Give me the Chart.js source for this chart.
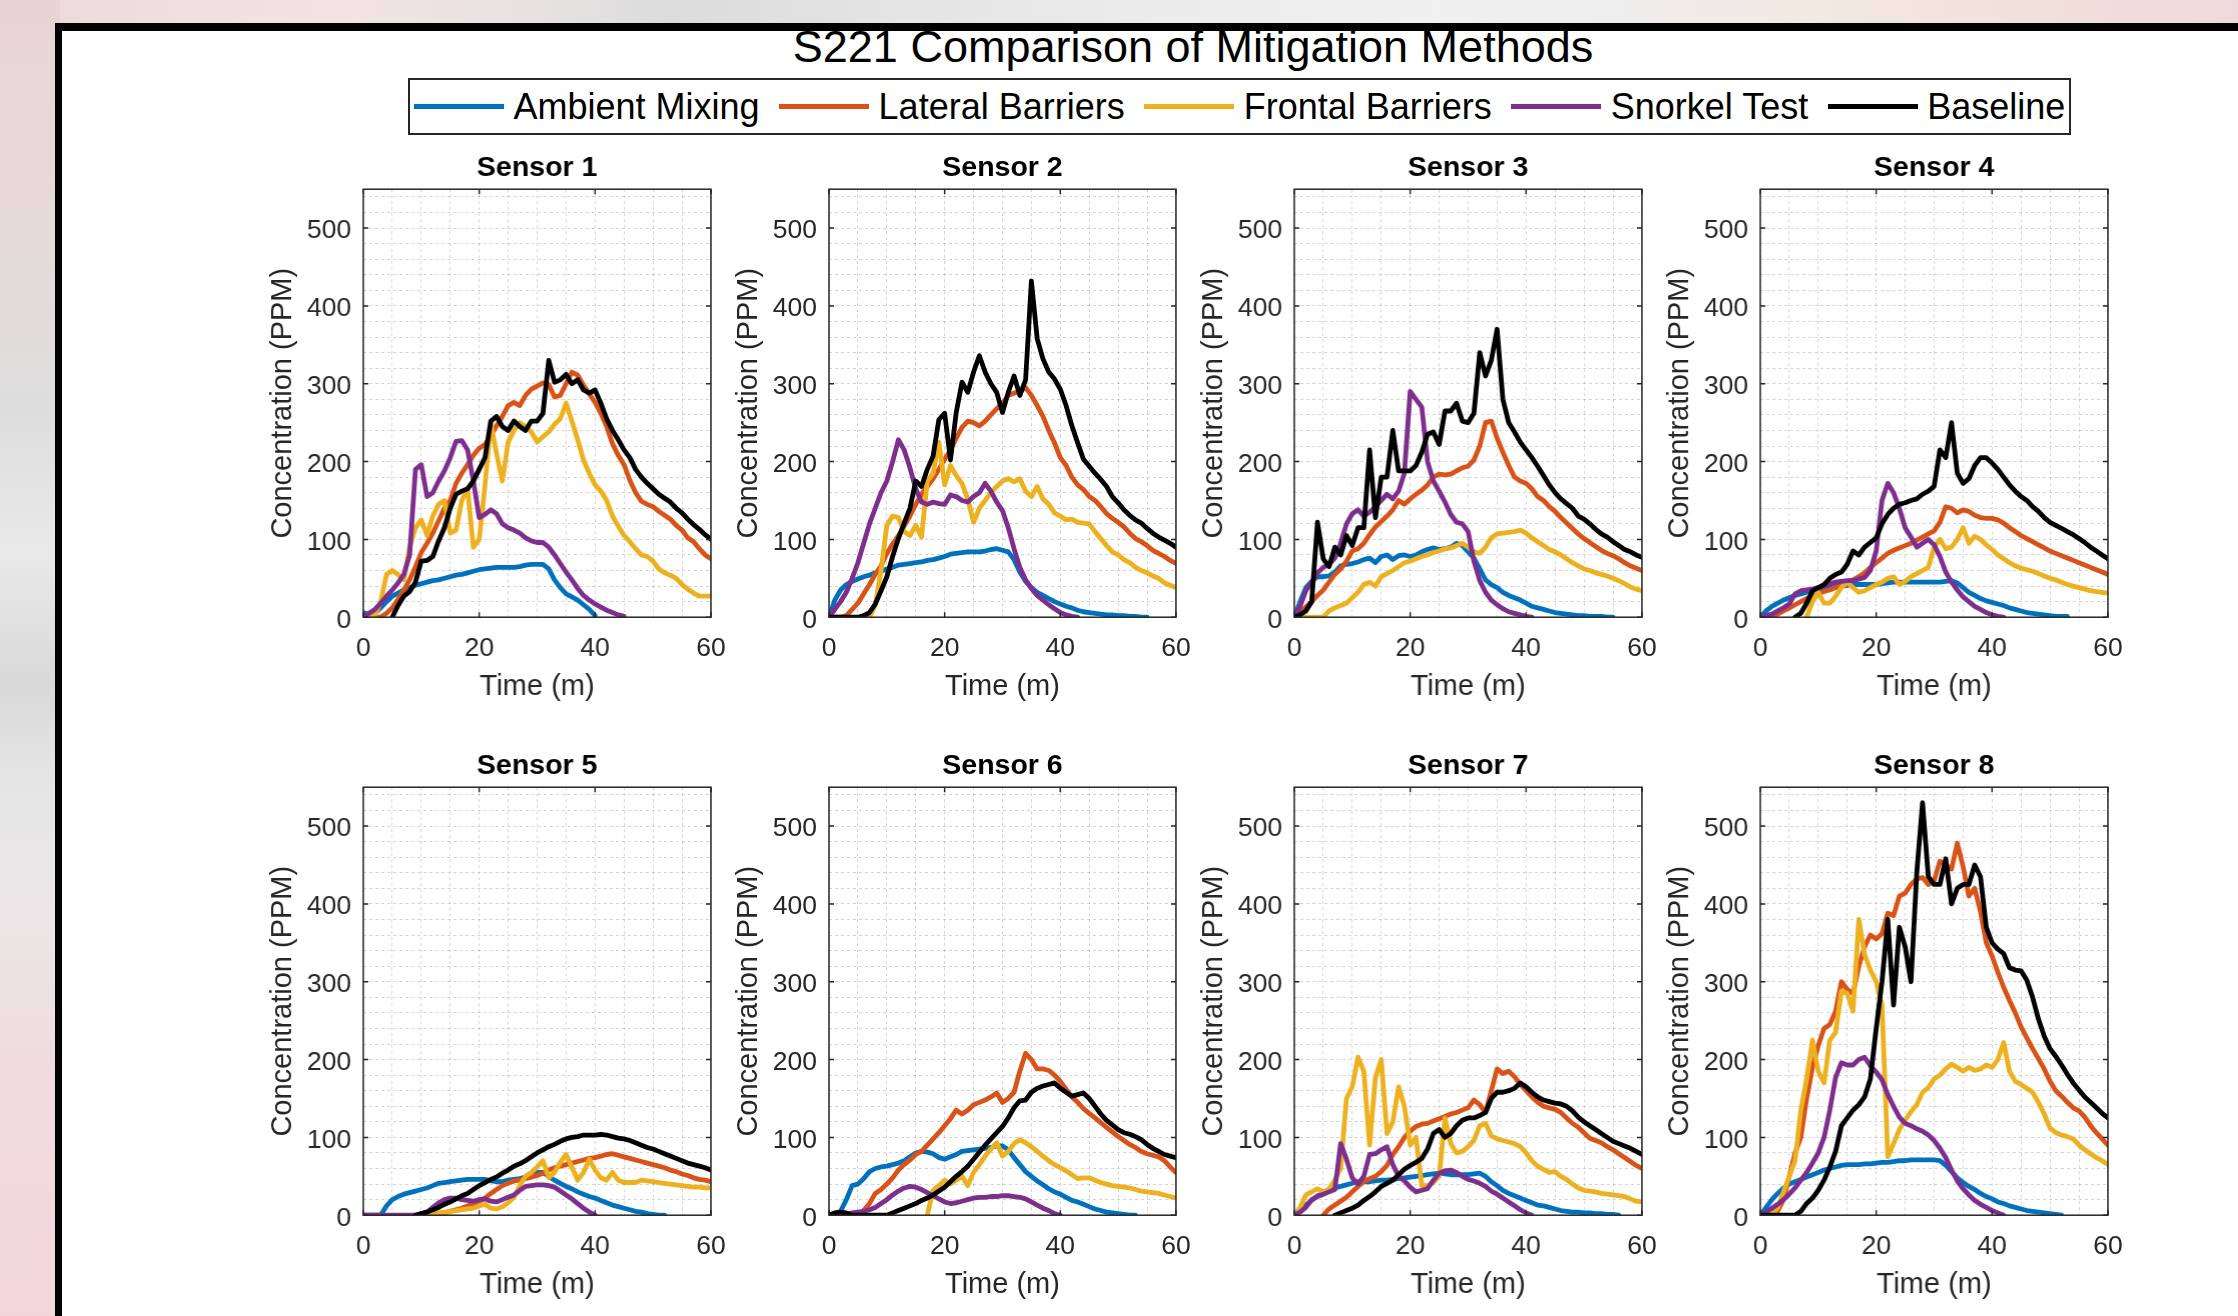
<!DOCTYPE html>
<html>
<head>
<meta charset="utf-8">
<script src="https://cdn.jsdelivr.net/npm/chart.js@4/dist/chart.umd.min.js"></script>
<style>
  html, body { margin: 0; padding: 0; }
  body {
    width: 2238px; height: 1316px; overflow: hidden; position: relative;
    font-family: "Liberation Sans", Arial, Helvetica, sans-serif;
    background: linear-gradient(to right, #ead9d9 0%, #f1dfdf 8%, #f3e3e3 16%, #e6e2e2 24%, #dcdcdc 30%, #e4e4e4 40%, #ececec 52%, #f1f0f0 64%, #eeeeee 72%, #f3e9e3 80%, #f2e0dc 90%, #eedada 100%);
  }
  #leftStrip {
    position: absolute; left: 0; top: 0; width: 60px; height: 1316px;
    background: linear-gradient(to bottom, #e8d4d5 0%, #ead8d8 12%, #e2dcdc 22%, #dedede 32%, #e9e9e9 42%, #d9d9d9 52%, #e6e6e6 60%, #ebe6e7 70%, #f0dadf 82%, #f2d6dc 100%);
  }
  #paper { position: absolute; left: 55px; top: 23px; right: 0; bottom: 0; background: #fff; }
  #borderTop { position: absolute; left: 55px; top: 23px; right: 0; height: 8px; background: #000; z-index: 5; }
  #borderLeft { position: absolute; left: 55px; top: 23px; width: 7px; bottom: 0; background: #000; z-index: 5; }
  #figTitle {
    position: absolute; left: 1193px; top: 24px; transform: translateX(-50%);
    font-size: 45px; line-height: 45px; white-space: nowrap; color: #000; z-index: 2;
  }
  #legend {
    position: absolute; left: 408px; top: 78px; width: 1663px; height: 57px;
    box-sizing: border-box; border: 2px solid #262626; background: #fff;
    display: flex; align-items: center; padding-left: 4px; z-index: 2;
  }
  .lgItem { display: flex; align-items: center; margin-right: 19.5px; }
  .lgLine { width: 90px; height: 5px; margin-right: 9.5px; }
  .lgText { font-size: 36px; line-height: 1; color: #000; white-space: nowrap; }
  .plotWrap { position: absolute; z-index: 1; }
</style>
</head>
<body>
<div id="leftStrip"></div>
<div id="paper"></div>
<div id="figTitle">S221 Comparison of Mitigation Methods</div>
<div id="borderTop"></div>
<div id="borderLeft"></div>
<div id="legend"></div>
<script>
// ---------------- DATA ----------------
const FIG_TITLE = 'S221 Comparison of Mitigation Methods';
const SERIES_NAMES = ['Ambient Mixing', 'Lateral Barriers', 'Frontal Barriers', 'Snorkel Test', 'Baseline'];
const SERIES_COLORS = ['#0072BD', '#D95319', '#EDB120', '#7E2F8E', '#000000'];
const SENSOR_TITLES = ['Sensor 1', 'Sensor 2', 'Sensor 3', 'Sensor 4', 'Sensor 5', 'Sensor 6', 'Sensor 7', 'Sensor 8'];
const X_TITLE = 'Time (m)';
const Y_TITLE = 'Concentration (PPM)';
const X_TICKS = [0, 20, 40, 60];
const Y_TICKS = [0, 100, 200, 300, 400, 500];
const TIME = [0,1,2,3,4,5,6,7,8,9,10,11,12,13,14,15,16,17,18,19,20,21,22,23,24,25,26,27,28,29,30,
  31,32,33,34,35,36,37,38,39,40,41,42,43,44,45,46,47,48,49,50,51,52,53,54,55,56,57,58,59,60];

// Sensor 1
const S1_AMB = [6,3,5,12,20,27,31,35,38,41, 43,45,47,48,50,52,54,55,57,59, 61,62,63,64,64,64,64,65,67,68, 68,68,62,48,38,30,26,22,16,10, 2];
const S1_LAT = [0,0,0,0,5,12,23,35,48,65, 83,95,108,124,140,150,172,185,196,208, 217,222,233,246,258,272,276,272,285,293, 297,301,299,283,285,300,315,311,298,287, 276,262,245,223,208,196,176,160,149,145, 142,136,131,126,118,112,102,97,88,80, 75];
const S1_FRO = [0,0,2,20,55,60,55,48,90,115, 125,105,130,145,150,108,112,150,165,90, 100,170,250,210,175,225,240,250,245,238, 225,232,238,248,255,275,252,228,202,185, 170,162,150,130,117,105,97,88,80,78, 72,62,57,54,50,42,36,31,27,27, 27];
const S1_SNK = [0,5,10,18,27,35,44,55,80,190, 196,155,160,175,188,205,226,227,215,175, 128,132,138,133,120,115,112,108,102,98, 96,96,90,80,69,58,48,37,28,22, 17,13,9,6,3,1];
const S1_BAS = [null,null,null,null,null,0,15,27,33,45, 72,73,78,98,115,140,158,162,165,175, 190,205,252,258,245,240,252,245,240,252, 252,262,330,302,305,312,300,305,292,288, 292,275,255,240,228,215,205,190,180,172, 165,158,153,148,140,134,126,119,113,106, 100];

// Sensor 2
const S2_AMB = [0,22,35,42,46,49,52,54,57,59, 62,64,67,68,69,70,71,73,74,76, 78,81,82,83,84,84,84,85,87,88, 86,84,74,58,46,38,32,28,24,20, 17,14,12,9,7,6,5,4,3,3, 2,2,1,1,0,0];
const S2_LAT = [0,0,0,2,10,18,30,42,55,66, 82,94,105,117,130,145,158,168,178,190, 203,215,230,244,252,250,246,252,260,268, 275,285,288,290,295,285,272,258,240,224, 205,195,180,170,164,155,150,142,133,127, 122,116,108,101,97,92,86,82,78,73, 69];
const S2_FRO = [null,null,null,null,null,null,null,0,15,60, 118,130,128,110,105,118,103,175,185,225, 170,195,182,172,152,122,140,150,160,168, 175,178,174,178,162,155,168,152,145,134, 130,125,126,122,121,120,110,101,92,84, 80,74,70,64,60,57,53,50,44,41, 38];
const S2_SNK = [0,10,20,32,50,70,95,120,140,160, 175,200,228,215,192,165,148,145,148,146, 145,157,155,150,148,155,160,172,162,148, 137,115,88,64,48,37,28,22,16,11, 6,3,1,0];
const S2_BAS = [0,0,0,0,0,0,2,6,17,34, 52,78,101,121,140,175,168,190,207,254, 262,202,263,302,289,315,336,315,300,289, 263,289,310,285,305,432,358,332,315,306, 293,272,246,224,203,194,185,177,168,155, 147,138,131,125,121,114,108,103,99,95, 90];

// Sensor 3
const S3_AMB = [0,20,38,46,52,52,53,58,66,68, 69,71,74,76,70,78,80,74,79,80, 78,80,84,87,89,87,88,90,95,92, 84,76,62,48,42,38,32,28,25,22, 18,14,12,10,8,6,5,4,3,2, 2,1,1,1,0,0];
const S3_LAT = [0,6,13,20,28,35,45,55,62,72, 85,88,95,106,116,123,130,138,150,145, 152,158,163,170,180,184,183,184,188,192, 194,202,220,250,252,230,212,195,180,175, 172,165,155,150,142,136,128,121,114,107, 101,96,91,86,82,79,75,70,66,63, 60];
const S3_FRO = [0,0,0,0,0,0,8,12,15,18, 25,32,42,45,40,52,56,60,65,70, 72,75,78,80,83,85,88,89,92,95, 90,84,82,90,102,107,108,109,110,112, 108,102,97,92,87,84,80,75,70,66, 62,60,57,55,53,50,47,43,39,36, 34];
const S3_SNK = [0,14,34,45,57,64,68,76,95,120, 133,138,130,135,142,150,158,152,162,185, 290,280,270,200,175,162,148,132,122,120, 110,72,47,32,22,16,11,7,5,3, 1,0];
const S3_BAS = [0,3,8,20,122,75,65,90,80,105, 92,115,115,215,128,180,180,240,188,188, 188,195,212,235,238,222,265,265,275,252, 250,262,340,310,330,370,280,250,238,225, 215,205,194,182,170,160,152,146,140,130, 126,120,113,107,103,97,92,87,84,80, 77];

// Sensor 4
const S4_AMB = [0,8,14,18,22,25,28,30,32,34, 36,37,39,40,40,41,42,42,42,42, 42,43,44,45,45,45,45,45,45,45, 45,45,46,47,44,38,32,28,24,21, 19,17,15,12,10,8,6,5,4,3, 2,1,1,1];
const S4_LAT = [0,0,1,4,8,12,16,20,24,27, 30,33,35,38,40,44,48,52,57,64, 70,76,82,86,89,92,95,99,103,107, 111,122,142,140,134,138,136,131,128,127, 127,125,121,115,110,105,101,97,93,89, 85,82,79,76,73,70,67,64,61,58, 55];
const S4_FRO = [null,null,null,null,null,null,null,null,0,20, 32,18,18,27,38,45,38,32,34,38, 42,45,50,52,42,46,52,56,60,64, 90,100,88,90,100,115,95,104,100,93, 87,80,75,70,66,63,61,59,56,53, 50,48,45,42,40,38,36,34,33,32, 31];
const S4_SNK = [0,2,4,8,12,17,30,34,35,36, 38,40,43,45,46,47,47,49,51,60, 85,150,172,160,140,115,103,90,95,100, 93,78,58,45,35,26,20,14,10,6, 3,1,0];
const S4_BAS = [null,null,null,null,null,null,0,5,18,34, 38,42,50,55,58,68,85,80,90,96, 102,120,132,140,145,147,150,152,158,162, 168,215,205,250,185,172,178,195,205,205, 198,190,180,170,162,155,150,142,136,128, 122,118,114,110,106,101,96,90,85,80, 75];

// Sensor 5
const S5_AMB = [0,0,0,0,12,20,24,27,29,31, 33,35,38,41,42,43,44,45,46,46, 46,46,44,43,43,45,46,47,49,52, 55,55,50,45,41,37,34,30,27,24, 22,19,16,13,11,9,7,5,4,2, 1,0,0];
const S5_LAT = [null,null,null,null,null,null,null,null,null,null, null,null,0,1,3,5,7,9,12,15, 18,22,28,33,38,41,44,45,47,49, 51,54,58,61,63,65,67,69,71,73, 74,76,78,79,77,75,73,71,69,67, 65,63,61,58,56,53,51,48,46,45, 43];
const S5_FRO = [null,null,null,null,null,null,null,null,null,null, 0,1,2,3,4,5,6,7,8,9, 12,14,9,8,11,16,23,38,50,55, 62,70,48,55,68,78,62,45,55,72, 58,48,45,55,45,42,42,42,45,44, 43,42,41,40,39,38,37,36,36,35, 35];
const S5_SNK = [0,0,0,0,0,0,0,0,0,0, 2,4,10,16,20,22,22,20,19,18, 20,21,18,17,20,23,26,32,37,38, 39,39,38,36,31,26,21,15,9,4, 0];
const S5_BAS = [null,null,null,null,null,null,null,null,null,0, 2,4,7,10,14,17,21,25,28,33, 38,42,46,49,54,58,63,66,70,75, 80,84,88,91,95,98,100,101,103,103, 103,104,103,101,99,98,96,93,90,87, 85,82,79,76,73,70,67,65,63,61, 58];

// Sensor 6
const S6_AMB = [0,2,5,20,38,40,47,56,60,62, 63,65,67,70,75,80,82,81,79,74, 72,75,78,82,83,84,85,86,87,89, 89,84,74,65,56,50,44,39,34,30, 27,23,19,17,14,11,8,6,4,3, 2,1,0,0];
const S6_LAT = [null,null,null,null,null,0,6,15,28,33, 40,48,58,65,71,78,82,90,98,106, 115,124,135,130,135,142,145,148,152,157, 145,150,158,185,208,200,188,188,186,180, 172,162,152,145,137,131,125,119,113,107, 101,96,91,87,82,79,77,75,70,62, 55];
const S6_FRO = [null,null,null,null,null,null,null,null,null,null, null,null,null,null,null,null,null,0,32,38, 45,40,45,50,38,55,65,76,85,93, 76,82,92,97,93,88,82,76,70,65, 61,57,52,47,48,48,45,42,40,38, 37,36,35,33,31,30,29,28,26,24, 22];
const S6_SNK = [0,0,0,1,3,4,5,7,10,15, 20,26,31,35,37,36,33,29,25,21, 17,15,16,18,20,22,23,23,24,24, 25,25,24,23,21,17,13,9,6,2, 0];
const S6_BAS = [0,3,4,3,0,0,0,0,0,0, 0,3,6,9,12,15,19,22,26,31, 36,43,50,56,63,72,81,90,98,106, 114,125,138,147,148,158,163,166,168,170, 163,158,153,155,157,150,140,130,122,116, 110,106,104,101,97,91,86,82,78,76, 74];

// Sensor 7
const S7_AMB = [0,7,13,19,25,28,32,35,37,39, 41,43,43,43,44,45,45,46,47,48, 49,50,51,52,53,54,53,52,52,52, 52,53,54,50,43,38,32,28,25,22, 19,16,13,12,10,8,6,5,4,4, 3,3,2,2,1,1,0];
const S7_LAT = [null,null,null,null,null,0,8,13,18,23, 30,37,43,47,50,56,64,78,88,100, 108,114,117,118,121,124,127,130,132,135, 138,148,142,132,160,188,182,185,178,168, 160,152,145,140,138,136,132,125,118,113, 106,99,96,93,88,84,79,74,69,64, 60];
const S7_FRO = [0,10,26,30,34,30,34,45,60,150, 165,203,185,90,177,200,105,120,165,140, 90,100,38,38,42,50,125,92,80,82, 88,96,115,118,102,98,96,94,92,88, 80,70,63,59,55,56,50,46,40,35, 32,31,30,28,27,26,25,24,21,18, 17];
const S7_SNK = [0,4,10,20,24,27,30,33,92,72, 48,40,50,78,79,84,88,65,50,44, 36,30,32,34,45,54,57,58,55,50, 46,44,41,37,31,27,22,17,12,7, 3,0];
const S7_BAS = [null,null,null,null,null,null,null,0,3,6, 9,13,19,24,30,37,41,45,52,59, 64,68,73,85,105,110,100,105,115,122, 125,125,128,132,150,158,158,160,163,170, 165,158,152,148,146,144,143,140,134,126, 120,115,110,105,100,95,92,89,86,82, 78];

// Sensor 8
const S8_AMB = [0,10,20,28,35,40,43,46,49,52, 55,58,60,62,64,65,65,65,66,66, 67,68,68,69,70,70,71,71,71,71, 71,70,64,56,48,42,37,33,28,24, 21,17,15,12,10,8,6,5,4,3, 2,1,0];
const S8_LAT = [0,0,0,5,20,50,80,100,150,190, 218,240,245,262,300,290,285,320,345,360, 355,362,388,385,410,414,425,432,434,425, 430,455,450,445,478,448,410,420,390,350, 333,312,293,276,260,242,228,214,201,188, 172,160,153,145,138,134,126,115,106,98, 90];
const S8_FRO = [0,0,0,10,30,50,70,135,175,225, 185,170,225,235,288,285,262,380,335,315, 300,270,75,92,110,122,133,142,158,164, 175,180,188,194,190,185,190,186,188,193, 190,200,222,185,172,168,163,158,145,130, 112,106,103,101,98,90,84,79,74,70, 65];
const S8_SNK = [0,4,9,14,20,27,35,45,55,67, 80,100,135,177,196,193,193,200,203,192, 184,174,155,140,126,118,115,111,108,103, 96,86,74,58,44,34,26,19,14,10, 6,3,0];
const S8_BAS = [0,0,0,0,0,0,0,5,15,22, 32,45,62,82,115,125,135,142,152,175, 240,300,380,270,370,345,300,440,530,435, 425,425,458,400,420,425,425,450,435,370, 350,342,336,318,315,314,302,280,252,230, 214,204,193,181,170,161,152,145,138,131, 125];

const SENSORS = [
  [S1_AMB, S1_LAT, S1_FRO, S1_SNK, S1_BAS],
  [S2_AMB, S2_LAT, S2_FRO, S2_SNK, S2_BAS],
  [S3_AMB, S3_LAT, S3_FRO, S3_SNK, S3_BAS],
  [S4_AMB, S4_LAT, S4_FRO, S4_SNK, S4_BAS],
  [S5_AMB, S5_LAT, S5_FRO, S5_SNK, S5_BAS],
  [S6_AMB, S6_LAT, S6_FRO, S6_SNK, S6_BAS],
  [S7_AMB, S7_LAT, S7_FRO, S7_SNK, S7_BAS],
  [S8_AMB, S8_LAT, S8_FRO, S8_SNK, S8_BAS]
];

// ---------------- LAYOUT ----------------
const FONT = '"Liberation Sans", Arial, Helvetica, sans-serif';
const PLOT_X = [363, 828.5, 1294, 1760];
const PLOT_Y = [189, 787];
const PLOT_W = 347;
const PLOT_H = 428;
const Y_AXIS_W = 150;
const X_AXIS_H = 90;
const SIDE_PAD = 30;

// legend (HTML, built from series arrays)
const legendEl = document.getElementById('legend');
SERIES_NAMES.forEach((name, k) => {
  const item = document.createElement('div');
  item.className = 'lgItem';
  const ln = document.createElement('span');
  ln.className = 'lgLine';
  ln.style.background = SERIES_COLORS[k];
  const tx = document.createElement('span');
  tx.className = 'lgText';
  tx.textContent = name;
  item.appendChild(ln); item.appendChild(tx);
  legendEl.appendChild(item);
});
document.getElementById('figTitle').textContent = FIG_TITLE;

// axes box + inward major ticks (MATLAB style)
const boxPlugin = {
  id: 'boxPlugin',
  afterDraw(chart) {
    const {ctx, chartArea: a, scales: {x, y}} = chart;
    ctx.save();
    ctx.strokeStyle = '#262626';
    ctx.lineWidth = 1.5;
    ctx.strokeRect(a.left, a.top, a.right - a.left, a.bottom - a.top);
    const L = 5;
    ctx.beginPath();
    X_TICKS.forEach(v => {
      const px = x.getPixelForValue(v);
      ctx.moveTo(px, a.bottom); ctx.lineTo(px, a.bottom - L);
      ctx.moveTo(px, a.top); ctx.lineTo(px, a.top + L);
    });
    Y_TICKS.forEach(v => {
      const py = y.getPixelForValue(v);
      ctx.moveTo(a.left, py); ctx.lineTo(a.left + L, py);
      ctx.moveTo(a.right, py); ctx.lineTo(a.right - L, py);
    });
    ctx.stroke();
    ctx.restore();
  }
};

function makeChart(idx) {
  const col = idx % 4, row = Math.floor(idx / 4);
  const W = Y_AXIS_W + PLOT_W + SIDE_PAD;
  const H = 40 + PLOT_H + X_AXIS_H;
  const wrap = document.createElement('div');
  wrap.className = 'plotWrap';
  wrap.style.left = (PLOT_X[col] - Y_AXIS_W) + 'px';
  wrap.style.top = (PLOT_Y[row] - 40) + 'px';
  wrap.style.width = W + 'px';
  wrap.style.height = H + 'px';
  const canvas = document.createElement('canvas');
  canvas.width = W; canvas.height = H;
  canvas.style.width = W + 'px'; canvas.style.height = H + 'px';
  wrap.appendChild(canvas);
  document.body.appendChild(wrap);

  const datasets = SENSORS[idx].map((vals, k) => ({
    label: SERIES_NAMES[k],
    data: vals.map((v, i) => ({x: TIME[i], y: v})),
    borderColor: SERIES_COLORS[k],
    backgroundColor: SERIES_COLORS[k],
    borderWidth: 4.8,
    pointRadius: 0,
    pointHoverRadius: 0,
    tension: 0,
    fill: false,
    spanGaps: false,
    clip: 0,
    order: SERIES_NAMES.length - 1 - k,
    borderJoinStyle: 'round',
    borderCapStyle: 'round'
  }));

  const tickFont = {family: FONT, size: 26.5, lineHeight: 1.2};
  const labFont = {family: FONT, size: 29, lineHeight: 1.2};

  const chart = new Chart(canvas, {
    type: 'line',
    data: {datasets},
    options: {
      responsive: false,
      maintainAspectRatio: false,
      animation: false,
      devicePixelRatio: 1,
      events: [],
      layout: {padding: {left: 0, right: SIDE_PAD, top: 0, bottom: 0}},
      plugins: {
        legend: {display: false},
        tooltip: {enabled: false},
        title: {
          display: true, text: SENSOR_TITLES[idx], color: '#000', fullSize: false, align: 'center',
          font: {family: FONT, size: 28.5, weight: 'bold', lineHeight: 1.2},
          padding: {top: 0, bottom: 4}
        }
      },
      scales: {
        x: {
          type: 'linear', min: 0, max: 60,
          afterFit: s => { s.height = X_AXIS_H; },
          ticks: {
            stepSize: 5, autoSkip: false, maxRotation: 0, minRotation: 0, includeBounds: false,
            padding: 16, color: '#262626', font: tickFont,
            callback: v => (X_TICKS.includes(v) ? String(v) : '')
          },
          grid: {color: 'rgba(38,38,38,0.2)', lineWidth: 1, drawTicks: false},
          border: {display: false, dash: [3, 3]},
          title: {display: true, text: X_TITLE, color: '#262626', font: labFont, padding: {top: 0, bottom: 2.5}}
        },
        y: {
          type: 'linear', min: 0, max: 550,
          afterFit: s => { s.width = Y_AXIS_W; },
          ticks: {
            stepSize: 20, autoSkip: false, includeBounds: false, labelOffset: 3,
            padding: 12, color: '#262626', font: tickFont,
            callback: v => (Y_TICKS.includes(v) ? String(v) : '')
          },
          grid: {color: 'rgba(38,38,38,0.2)', lineWidth: 1, drawTicks: false},
          border: {display: false, dash: [3, 3]},
          title: {display: true, text: Y_TITLE, color: '#262626', font: labFont, padding: {top: 53, bottom: 0}}
        }
      }
    },
    plugins: [boxPlugin]
  });

  // make the chart area land exactly on the target rectangle
  let a = chart.chartArea;
  const aw = a.right - a.left, ah = a.bottom - a.top;
  if (Math.abs(aw - PLOT_W) > 0.5 || Math.abs(ah - PLOT_H) > 0.5) {
    const nW = W + (PLOT_W - aw), nH = H + (PLOT_H - ah);
    wrap.style.width = nW + 'px'; wrap.style.height = nH + 'px';
    chart.resize(nW, nH);
    a = chart.chartArea;
  }
  wrap.style.left = (PLOT_X[col] - a.left) + 'px';
  wrap.style.top = (PLOT_Y[row] - a.top) + 'px';
}

for (let i = 0; i < 8; i++) makeChart(i);
</script>
</body>
</html>
